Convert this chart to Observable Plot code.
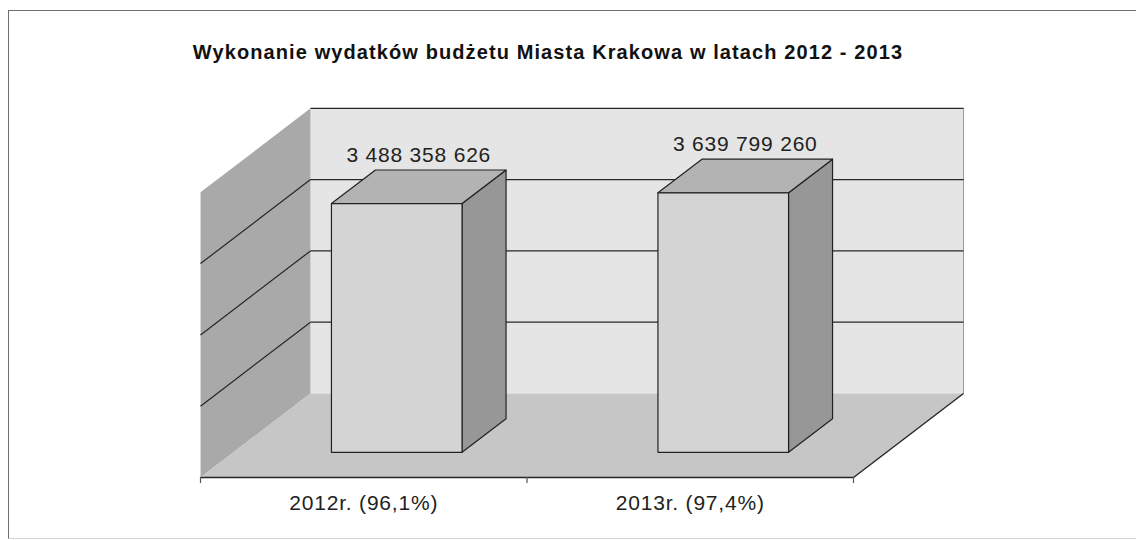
<!DOCTYPE html>
<html><head><meta charset="utf-8">
<script src="https://cdn.jsdelivr.net/npm/d3@7"></script>
<script src="https://cdn.jsdelivr.net/npm/@observablehq/plot@0.6"></script>
<style>
body{margin:0;background:#fff;}
#wrap{position:relative;width:1136px;height:540px;overflow:hidden;font-family:"Liberation Sans",Arial,sans-serif;}
#chart{position:absolute;left:0;top:0;}
#chart svg text{letter-spacing:0.8px;}
#frame{position:absolute;left:8px;top:10px;width:1200px;height:527px;border:1px solid #6f6f6f;border-bottom-color:#d4d4d4;pointer-events:none;}
#title{position:absolute;top:41px;left:0;width:1096px;text-align:center;font-weight:bold;font-size:20px;letter-spacing:1.1px;color:#111;}
</style></head><body>
<div id="wrap"><div id="chart"></div><div id="frame"></div><div id="title">Wykonanie wydatków budżetu Miasta Krakowa w latach 2012 - 2013</div></div>
<script>
// ---- data ----
const categories = ["2012r. (96,1%)", "2013r. (97,4%)"];
const values = [3488358626, 3639799260];
const gridValues = [1e9, 2e9, 3e9, 4e9];
const yMax = 4e9;

// ---- projection parameters (3D look) ----
const xRange = [200, 853];           // front edge of floor, px
const yRange = [477, 477 - 285.2];   // front plane baseline / top, px
const depthPx = [110, 84];           // back-plane offset, px
const DX = depthPx[0] / ((xRange[1] - xRange[0]) / 2);
const DY = depthPx[1] * yMax / (yRange[0] - yRange[1]);
const proj = (u, z, v) => ({x: u + z * DX, y: v + z * DY});
const tickLen = 6 * yMax / (yRange[0] - yRange[1]);

const fmt = d3.formatLocale({thousands: " ", grouping: [3], decimal: ","}).format(",d");

const backWall = [proj(0,1,0), proj(2,1,0), proj(2,1,yMax), proj(0,1,yMax)];
const sideWall = [proj(0,0,0), proj(0,1,0), proj(0,1,yMax), proj(0,0,yMax)];
const floor = [proj(0,0,0), proj(2,0,0), proj(2,1,0), proj(0,1,0)];

const fronts = [], tops = [], rights = [];
values.forEach((v, i) => {
  const u0 = i + 0.3, u1 = i + 0.7, z0 = 0.3, z1 = 0.7;
  fronts.push(...[proj(u0,z0,0), proj(u1,z0,0), proj(u1,z0,v), proj(u0,z0,v)].map(p => ({...p, k: i})));
  tops.push(...[proj(u0,z0,v), proj(u1,z0,v), proj(u1,z1,v), proj(u0,z1,v)].map(p => ({...p, k: i})));
  rights.push(...[proj(u1,z0,0), proj(u1,z1,0), proj(u1,z1,v), proj(u1,z0,v)].map(p => ({...p, k: i})));
});

const backGrid = gridValues.map(g => { const a = proj(0,1,g), b = proj(2,1,g); return {x1:a.x, y1:a.y, x2:b.x, y2:b.y}; });
const sideGrid = gridValues.filter(g => g < yMax).map(g => { const a = proj(0,0,g), b = proj(0,1,g); return {x1:a.x, y1:a.y, x2:b.x, y2:b.y}; });
const floorEdges = [[proj(0,0,0), proj(2,0,0)], [proj(2,0,0), proj(2,1,0)]].map(([a,b]) => ({x1:a.x, y1:a.y, x2:b.x, y2:b.y}));
const wallEdge = [[proj(2,1,0), proj(2,1,yMax)]].map(([a,b]) => ({x1:a.x, y1:a.y, x2:b.x, y2:b.y}));
const sideEdge = [[proj(0,0,0), proj(0,0,yMax)]].map(([a,b]) => ({x1:a.x, y1:a.y, x2:b.x, y2:b.y}));

const poly = (data, fill, extra = {}) => Plot.line(data, {x: "x", y: "y", z: "k", fill, stroke: "none", curve: "linear-closed", ...extra});
const seg = (data, stroke, w = 1) => Plot.link(data, {x1: "x1", y1: "y1", x2: "x2", y2: "y2", stroke, strokeWidth: w});

const chart = Plot.plot({
  width: 1136,
  height: 540,
  style: {background: "transparent", fontFamily: "'Liberation Sans', Arial, sans-serif"},
  x: {domain: [0, 2], range: xRange, axis: null},
  y: {domain: [0, yMax], range: yRange, axis: null},
  marks: [
    poly(backWall.map(p => ({...p, k: 0})), "#e5e5e5"),
    poly(sideWall.map(p => ({...p, k: 0})), "#a9a9a9"),
    poly(floor.map(p => ({...p, k: 0})), "#c6c6c6"),
    seg(sideEdge, "#d8d8d8", 1),
    seg(wallEdge, "#9a9a9a", 1),
    seg(backGrid, "#262626", 1.2),
    seg(sideGrid, "#262626", 1.2),
    seg(floorEdges, "#262626", 1.4),
    Plot.ruleX([0, 1, 2], {y1: 0, y2: -tickLen, stroke: "#555", strokeWidth: 1.2}),
    poly(rights, "#979797", {stroke: "#222", strokeWidth: 1.2}),
    poly(tops, "#b3b3b3", {stroke: "#222", strokeWidth: 1.2}),
    poly(fronts, "#d4d4d4", {stroke: "#222", strokeWidth: 1.2}),
    Plot.text(values, {
      x: (d, i) => i + 0.5 + 0.5 * DX,
      y: d => d + 0.7 * DY,
      dy: -15,
      text: d => fmt(d),
      fontSize: 21,
      fill: "#222"
    }),
    Plot.text(categories, {
      x: (d, i) => i + 0.5,
      y: 0,
      dy: 26,
      text: d => d,
      fontSize: 21,
      fill: "#222"
    })
  ]
});
document.getElementById("chart").append(chart);
</script>
</body></html>
